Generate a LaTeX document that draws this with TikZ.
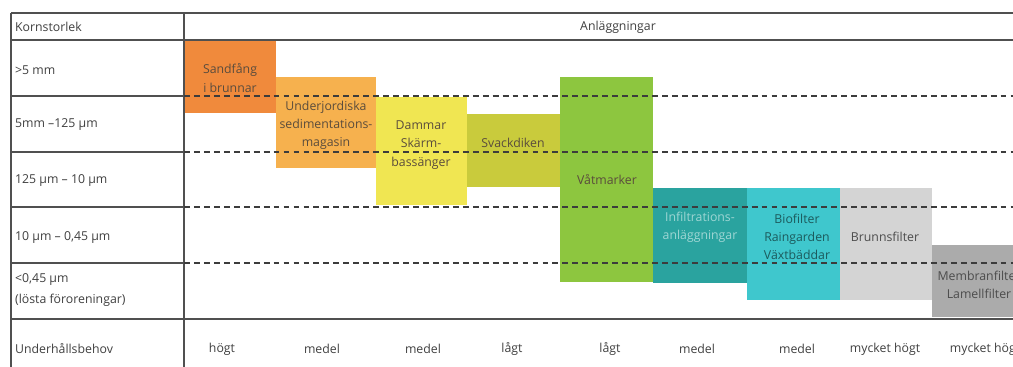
\documentclass[tikz,border=0pt]{standalone}
\usepackage{fontspec}
\setmainfont{Open Sans}
\usetikzlibrary{positioning}
\definecolor{textgray}{HTML}{404040}
\definecolor{linegray}{HTML}{505050}
\definecolor{dashgray}{HTML}{3C3C3C}
\definecolor{blktext}{HTML}{5A4C3C}
\definecolor{sandc}{HTML}{F08A3C}
\definecolor{underc}{HTML}{F6B14E}
\definecolor{dammc}{HTML}{F0E652}
\definecolor{svackc}{HTML}{C9CB3C}
\definecolor{vatc}{HTML}{8DC63F}
\definecolor{infc}{HTML}{2AA39F}
\definecolor{bioc}{HTML}{3FC7CD}
\definecolor{brunc}{HTML}{D4D4D4}
\definecolor{memc}{HTML}{ABABAB}

\begin{document}
\begin{tikzpicture}[x=0.03cm,y=-0.03cm,
  every node/.style={font=\fontsize{10.5}{12}\selectfont, text=textgray},
  lbl/.style={anchor=west, align=left},
  blk/.style={align=center, text=blktext, font=\fontsize{10.5}{15.5}\selectfont},
  grid/.style={line width=1.5pt, draw=linegray},
  sep/.style={dash pattern=on 5pt off 3.5pt, line width=1pt, draw=dashgray},
  sepbold/.style={sep, line width=1.4pt}]
\useasboundingbox (0,0) rectangle (1013,367);
\fill[white] (0,0) rectangle (1013,367);

% blocks
\fill[sandc] (184,40) rectangle (276,113);
\fill[underc] (276,77) rectangle (376,168);
\fill[dammc] (376,97) rectangle (467,205);
\fill[svackc] (467,114) rectangle (560,187);
\fill[vatc] (560,77) rectangle (653,282);
\fill[infc] (653,188) rectangle (747,283);
\fill[bioc] (747,188) rectangle (840,300);
\fill[brunc] (840,188) rectangle (932,300);
\fill[memc] (932,245) rectangle (1013,317);

% table lines
\draw[grid] (11,13) -- (1013,13);
\draw[grid] (11,40) -- (1013,40);
\draw[grid] (11,319) -- (1013,319);
\draw[grid] (11,13) -- (11,367);
\draw[grid] (184,13) -- (184,367);
\draw[grid] (11,96) -- (184,96);
\draw[grid] (11,152) -- (184,152);
\draw[grid] (11,207) -- (184,207);
\draw[grid] (11,263) -- (184,263);
\draw[sep] (184,96) -- (1013,96);
\draw[sep] (184,152) -- (1013,152);
\draw[sepbold] (184,207) -- (1013,207);
\draw[sepbold] (184,263) -- (1013,263);

% header
\node[lbl] (korn) at (11,27) {Kornstorlek};
\node (anl) at (618,27) {Anläggningar};

% grain sizes
\node[lbl] (storlek1) at (11,70) {>5 mm};
\node[lbl] (storlek2) at (11,125) {5mm –125 µm};
\node[lbl] (storlek3) at (11,181) {125 µm – 10 µm};
\node[lbl] (storlek4) at (11,238) {10 µm – 0,45 µm};
\node[lbl, font=\fontsize{10.5}{18}\selectfont] (storlek5) at (11,290) {<0,45 µm\\(lösta föroreningar)};
\node[lbl] (underhall) at (11,349) {Underhållsbehov};

% facilities
\node[blk] (sand) at (230,78) {Sandfång\\i brunnar};
\node[blk] (under) at (326,125) {Underjordiska\\sedimentations-\\magasin};
\node[blk] (damm) at (421,145) {Dammar\\Skärm-\\bassänger};
\node[blk] (svack) at (513,143) {Svackdiken};
\node[blk] (vat) at (607,180) {Våtmarker};
\node[blk, text=white!55!infc] (infil) at (700,227) {Infiltrations-\\anläggningar};
\node[blk, text=black!55!bioc] (bio) at (797,237) {Biofilter\\Raingarden\\Växtbäddar};
\node[blk, text=black!70] (brunn) at (885,237) {Brunnsfilter};
\node[blk, text=black!70] (mem) at (979,285) {Membranfilter\\Lamellfilter};

% maintenance
\node (beh1) at (222,349) {högt};
\node (beh2) at (322,349) {medel};
\node (beh3) at (423,349) {medel};
\node (beh4) at (512,349) {lågt};
\node (beh5) at (610,349) {lågt};
\node (beh6) at (697,349) {medel};
\node (beh7) at (797,349) {medel};
\node (beh8) at (885,349) {mycket högt};
\node (beh9) at (985,349) {mycket högt};
\end{tikzpicture}
\end{document}
